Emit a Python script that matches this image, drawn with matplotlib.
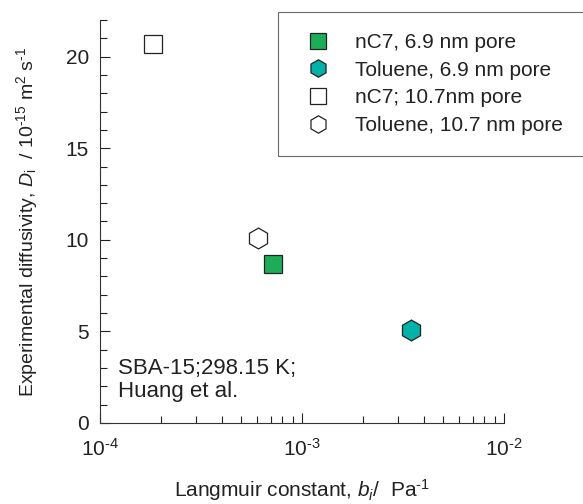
import matplotlib
matplotlib.use("Agg")
import matplotlib.pyplot as plt
from matplotlib.lines import Line2D
from matplotlib.ticker import MultipleLocator, LogLocator, NullFormatter, FuncFormatter
import numpy as np

plt.rcParams['font.family'] = ['Liberation Sans', 'DejaVu Sans']
plt.rcParams['mathtext.fontset'] = 'custom'
plt.rcParams['mathtext.rm'] = 'Liberation Sans'
plt.rcParams['mathtext.it'] = 'Liberation Sans:italic'

labels = ["nC7, 6.9 nm pore", "Toluene, 6.9 nm pore", "nC7; 10.7nm pore", "Toluene, 10.7 nm pore"]
b_values = [7.16e-4, 3.45e-3, 1.82e-4, 6.04e-4]
D_values = [8.70, 5.1, 20.7, 10.09]
markers = ["s", "h", "s", "h"]
facecolors = ["#1bae57", "#00b2aa", "white", "white"]

fig = plt.figure(figsize=(5.83, 5.04), dpi=100)
ax = fig.add_axes([100/583, 81/504, 404/583, 403/504])

edge = '#222222'
for lab, x, y, m, fc in zip(labels, b_values, D_values, markers, facecolors):
    ax.plot([x], [y], linestyle='none', marker=m, markersize=15 if m == 'h' else 13,
            markerfacecolor=fc, markeredgecolor=edge, markeredgewidth=0.9)

ax.set_xscale('log')
ax.set_xlim(1e-4, 1e-2)
ax.set_ylim(0, 22)
ax.spines['top'].set_visible(False)
ax.spines['right'].set_visible(False)
ax.spines['left'].set_color('#333333')
ax.spines['bottom'].set_color('#333333')

ax.yaxis.set_major_locator(MultipleLocator(5))
ax.yaxis.set_minor_locator(MultipleLocator(1))
ax.xaxis.set_major_locator(LogLocator(base=10, numticks=10))
ax.xaxis.set_minor_locator(LogLocator(base=10, subs=range(2, 10), numticks=10))
ax.xaxis.set_minor_formatter(NullFormatter())
ax.xaxis.set_major_formatter(FuncFormatter(
    lambda v, p: r"10$^{\text{-}%d}$" % int(round(-np.log10(v)))))
ax.tick_params(which='both', direction='in', labelsize=15, colors='#222222')
ax.tick_params(which='major', length=7, width=0.8)
ax.tick_params(which='minor', length=5, width=0.8)
ax.tick_params(axis='y', which='major', pad=8)
ax.tick_params(axis='x', which='major', pad=11)

ax.set_xlabel(r"Langmuir constant, $b_i$/  Pa$^{\text{-}1}$", fontsize=15, color='#222222')
ax.xaxis.set_label_coords(0.5, -0.135)
ax.set_ylabel(r"Experimental diffusivity, $D_\mathrm{i}$  / 10$^{\text{-}15}$ m$^2$ s$^{\text{-}1}$",
              fontsize=14, color='#222222')
ax.yaxis.set_label_coords(-0.1485, 0.5)

ax.text(18/404, (423-380)/403, "SBA-15;298.15 K;\nHuang et al.", transform=ax.transAxes, fontsize=16,
        color='#222222', va='center', ha='left', linespacing=1.15)

handles = [Line2D([], [], linestyle='none', marker=m, markersize=12.5 if m == 'h' else 12,
                  markerfacecolor=fc, markeredgecolor=edge, markeredgewidth=0.9)
           for m, fc in zip(markers, facecolors)]
leg = fig.legend(handles, labels, loc='upper left', bbox_to_anchor=(278/583, 1 - 12/504), fontsize=15,
                 frameon=True, fancybox=False, edgecolor='#444444', borderpad=1.0,
                 handletextpad=0.85, labelspacing=0.42, borderaxespad=0, handlelength=1.85)
leg.get_frame().set_linewidth(0.8)
for t in leg.get_texts():
    t.set_color('#222222')

fig.savefig("out.png", dpi=100)
